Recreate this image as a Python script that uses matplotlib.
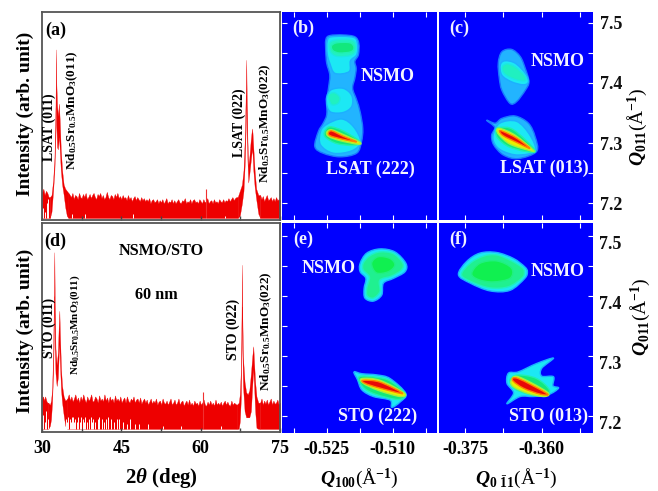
import numpy as np
import matplotlib
matplotlib.use("Agg")
import matplotlib.pyplot as plt
from matplotlib.patches import PathPatch
from matplotlib.path import Path

plt.rcParams['font.family'] = ['Liberation Serif', 'DejaVu Serif']
plt.rcParams['font.weight'] = 'bold'
plt.rcParams['mathtext.fontset'] = 'custom'
plt.rcParams['mathtext.rm'] = 'Liberation Serif'
plt.rcParams['mathtext.it'] = 'Liberation Serif:italic:bold'
plt.rcParams['mathtext.bf'] = 'Liberation Serif:bold'
plt.rcParams['mathtext.bfit'] = 'Liberation Serif:italic:bold'

# === XRD scan, panel (a) ===
a_left_x = [30, 30.25, 30.5, 30.75, 31, 31.25, 31.5]
a_left_top = [13, 15, 12, 14, 13, 11, 11]
a_mid_x = np.arange(35, 67.01, 0.25)
a_mid_top = [13, 12, 11, 13, 10, 12, 11.5, 10, 13, 11, 10.5, 12.5, 11, 13, 10, 11, 12.5, 10.5, 12, 13,
             11, 10, 12.5, 11.5, 13, 10.5, 12, 10, 11, 13.5, 11, 10, 12, 11.5, 10, 12.5, 11, 13, 10.5, 11.5,
             10, 12, 10.5, 11, 9.5, 12, 10, 11, 9, 10.5, 11.5, 9.5, 11, 10, 9, 11, 9.5, 10.5, 9, 10,
             9, 10.5, 8, 9.5, 10, 8.5, 9, 10, 8, 9.5, 8.5, 10, 8, 9, 10.5, 8, 9, 8.5, 10, 8,
             9.5, 8, 9, 10, 8.5, 8, 9.5, 9, 10.5, 8, 9, 8.5, 10, 8, 9.5, 10, 8.5, 9, 8, 10,
             9, 8, 10, 8.5, 9, 10.5, 8, 9, 9.5, 8, 10, 8.5, 9, 8, 10, 9, 8.5, 10, 8.5, 9.5,
             9, 10.5, 9, 10, 11, 9.5, 10.5, 11, 11]
a_right_x = np.arange(71.25, 75.01, 0.25)
a_right_top = [12, 10, 11.5, 9, 10.5, 12, 9.5, 10, 11, 9, 10.5, 9, 11, 9.5, 10, 9.5]
a_peak1_x = [31.5, 31.8, 32.1, 32.35, 32.55, 32.65, 32.72, 32.85, 33.0, 33.2, 33.35, 33.55, 33.8, 34.1, 34.4, 34.7, 35]
a_peak1_top = [11, 12, 19, 30, 55, 82, 65, 55, 50, 56, 48, 34, 24, 17, 15, 14, 13]
a_peak1_low = [1, 4, 14, 24, 40, 60, 45, 35, 34, 40, 34, 24, 17, 12, 6, 2, 1]
a_peak2_x = [67, 67.4, 67.8, 68.1, 68.35, 68.55, 68.62, 68.7, 68.85, 69.0, 69.2, 69.45, 69.7, 69.8, 69.95, 70.2, 70.5, 70.9, 71.25]
a_peak2_top = [11, 14, 17, 24, 40, 65, 77, 60, 38, 26, 30, 38, 44, 42, 35, 24, 15, 12, 12]
a_peak2_low = [1, 2, 8, 14, 28, 48, 60, 42, 28, 18, 22, 28, 34, 32, 24, 16, 10, 3, 1]
a_spike_x = [61.1]
a_spike_top = [15]
a_gap_x = [30.2, 30.6, 30.9, 31.2, 35.6, 38.2, 47.3, 61.1, 64.6]
a_gap_top = [6, 4, 8, 10, 3, 3, 3, 8, 2]

# === XRD scan, panel (d) ===
d_left_x = [30, 30.2, 30.4, 30.6, 30.8, 31, 31.2]
d_left_top = [16, 17, 15, 17, 15, 14, 14]
d_mid_x = np.arange(34.8, 66.81, 0.25)
d_mid_top = [16, 18, 15, 17, 14.5, 16, 18, 15, 16.5, 14, 17, 15, 18, 15.5, 14, 17, 15, 16, 18, 14.5,
             15, 17, 16, 14, 17.5, 15, 16, 14.5, 18, 15, 16.5, 14, 17, 15, 16, 14, 17.5, 15, 16, 14.5,
             17, 14, 15.5, 16.5, 14, 17, 15, 14, 16, 15, 17, 14, 15.5, 16, 14, 16.5, 13.5, 15, 16, 14,
             15.5, 13, 14.5, 16, 13.5, 15, 14, 16, 13, 14.5, 15, 13, 16, 14, 13.5, 15, 13, 14.5, 16, 13,
             14, 15.5, 13, 14, 16, 13, 14.5, 15, 12.5, 14, 15, 13, 15.5, 13, 14, 12.5, 15, 13.5, 14, 12.5,
             15, 13, 14, 15.5, 13, 12.5, 14.5, 13, 15, 13, 14, 12.5, 15.5, 13, 14, 13, 14.5, 12.5, 14, 15,
             13, 14.5, 13, 12.5, 15, 13, 14, 13.5, 13]
d_right_x = np.arange(71.25, 75.01, 0.25)
d_right_top = [14, 16, 13, 15, 13.5, 15.5, 13, 14.5, 16, 13, 15, 13.5, 14, 15.5, 13, 14]
d_peak1_x = [31.2, 31.5, 31.7, 31.9, 32.1, 32.25, 32.33, 32.42, 32.55, 32.77, 33.0, 33.15, 33.28, 33.4, 33.6, 33.8, 34.1, 34.4, 34.8]
d_peak1_top = [14, 13, 15, 20, 38, 65, 86, 60, 40, 32, 38, 50, 58, 46, 30, 22, 17, 15, 16]
d_peak1_low = [1.5, 3, 6, 14, 28, 48, 65, 40, 28, 22, 26, 36, 42, 32, 20, 14, 8, 3, 1.5]
d_peak2_x = [66.8, 67.2, 67.4, 67.6, 67.72, 67.8, 67.88, 68.0, 68.3, 68.6, 68.9, 69.2, 69.5, 69.75, 69.95, 70.1, 70.3, 70.55, 70.9, 71.25]
d_peak2_top = [13, 14, 18, 30, 55, 80, 55, 36, 24, 19, 18, 20, 28, 36, 41, 33, 24, 17, 14, 14]
d_peak2_low = [1.5, 1.5, 5, 16, 38, 60, 40, 22, 10, 7, 7, 7, 10, 22, 30, 22, 10, 2, 1.5, 1.5]
d_spike_x = [60.5]
d_spike_top = [19]
d_gap_x = [30.2, 30.5, 30.8, 31.1, 34.6, 34.8, 35, 35.2, 35.4, 35.7, 35.9, 36.1, 36.3, 36.6, 36.8, 37.1, 37.4, 37.7,
           38, 38.2, 38.6, 38.9, 39.2, 39.5, 39.7, 40.1, 40.5, 40.8, 41.3, 41.7, 42.1, 42.4, 43, 43.6, 44.1, 44.6,
           45.4, 46.1, 46.7, 47.5, 48.4, 50.1, 52.8, 56.2, 60.5, 63.8]
d_gap_top = [8, 5, 10, 6, 6, 5, 7, 6, 5, 7, 7, 5, 6, 5, 7, 5, 7, 6, 5, 7, 5, 6, 7, 5, 6, 5, 6, 7, 6, 5, 6, 7, 6, 5,
             6, 6, 5, 4, 6, 4, 4, 4, 3, 3, 7, 3]

# === reciprocal space maps, (level, Qx outline, Qy outline) ===
panel_b = [
    ('halo', [-.5252, -.5243, -.5212, -.5186, -.5177, -.5178, -.5186, -.5183, -.5186, -.5191, -.5182, -.5174, -.5168, -.5171, -.5182, -.5220, -.5258, -.5277, -.5269, -.5258, -.5250, -.5250, -.5246, -.5243, -.5250, -.5252],
     [7.472, 7.479, 7.480, 7.477, 7.466, 7.447, 7.436, 7.424, 7.408, 7.391, 7.372, 7.352, 7.324, 7.302, 7.283, 7.277, 7.283, 7.294, 7.319, 7.333, 7.347, 7.369, 7.391, 7.413, 7.433, 7.452]),
    ('cyan', [-.5249, -.5239, -.5189, -.5180, -.5182, -.5196, -.5199, -.5231, -.5243, -.5249],
     [7.469, 7.477, 7.476, 7.463, 7.447, 7.437, 7.419, 7.416, 7.433, 7.449]),
    ('aqua', [-.5244, -.5229, -.5193, -.5183, -.5191, -.5224, -.5241],
     [7.466, 7.472, 7.472, 7.461, 7.447, 7.444, 7.451]),
    ('green', [-.5239, -.5227, -.5197, -.5188, -.5195, -.5221, -.5236],
     [7.462, 7.467, 7.467, 7.459, 7.452, 7.450, 7.454]),
    ('cyan', [-.5250, -.5239, -.5212, -.5193, -.5193, -.5212, -.5239, -.5249],
     [7.377, 7.389, 7.391, 7.379, 7.361, 7.351, 7.351, 7.361]),
    ('aqua', [-.5246, -.5233, -.5220, -.5224, -.5239],
     [7.379, 7.384, 7.376, 7.366, 7.364]),
    ('cyan', [-.5264, -.5250, -.5216, -.5189, -.5173, -.5193, -.5235, -.5264],
     [7.319, 7.331, 7.340, 7.327, 7.302, 7.287, 7.283, 7.297]),
    ('green', [-.5255, -.5243, -.5212, -.5174, -.5189, -.5227, -.5252],
     [7.318, 7.327, 7.320, 7.302, 7.296, 7.299, 7.309]),
    ('yellow', [-.5250, -.5239, -.5212, -.5176, -.5178, -.5220, -.5246],
     [7.318, 7.322, 7.314, 7.302, 7.298, 7.304, 7.311]),
    ('red', [-.5246, -.5238, -.5212, -.5182, -.5212, -.5242],
     [7.317, 7.320, 7.311, 7.302, 7.306, 7.312]),
]
panel_c = [
    ('halo', [-.3685, -.3678, -.3659, -.3642, -.3632, -.3625, -.3632, -.3649, -.3662, -.3678, -.3683],
     [7.433, 7.452, 7.456, 7.444, 7.424, 7.402, 7.388, 7.369, 7.366, 7.388, 7.408]),
    ('cyan', [-.3681, -.3672, -.3652, -.3632, -.3626, -.3636, -.3659, -.3678],
     [7.430, 7.437, 7.433, 7.416, 7.402, 7.397, 7.402, 7.413]),
    ('aqua', [-.3677, -.3668, -.3652, -.3634, -.3632, -.3649, -.3668, -.3676],
     [7.427, 7.432, 7.427, 7.413, 7.404, 7.405, 7.412, 7.419]),
    ('halo', [-.3708, -.3691, -.3678, -.3652, -.3626, -.3613, -.3610, -.3646, -.3675, -.3694, -.3698, -.3692],
     [7.338, 7.333, 7.341, 7.345, 7.333, 7.311, 7.286, 7.274, 7.280, 7.297, 7.313, 7.326]),
    ('cyan', [-.3695, -.3682, -.3649, -.3623, -.3613, -.3646, -.3675, -.3691],
     [7.313, 7.333, 7.336, 7.313, 7.287, 7.280, 7.286, 7.297]),
    ('green', [-.3690, -.3682, -.3655, -.3613, -.3632, -.3665, -.3686],
     [7.321, 7.326, 7.322, 7.288, 7.286, 7.294, 7.308]),
    ('yellow', [-.3688, -.3680, -.3652, -.3616, -.3626, -.3662, -.3683],
     [7.322, 7.324, 7.313, 7.288, 7.288, 7.298, 7.313]),
    ('red', [-.3683, -.3675, -.3649, -.3623, -.3649, -.3675],
     [7.320, 7.319, 7.308, 7.291, 7.301, 7.312]),
]
panel_e = [
    ('cyan', [-.5174, -.5159, -.5129, -.5095, -.5070, -.5072, -.5098, -.5121, -.5125, -.5144, -.5163, -.5165, -.5161, -.5174],
     [7.454, 7.471, 7.478, 7.473, 7.454, 7.440, 7.429, 7.421, 7.401, 7.391, 7.396, 7.412, 7.429, 7.440]),
    ('mint', [-.5167, -.5153, -.5129, -.5098, -.5077, -.5080, -.5102, -.5129, -.5129, -.5144, -.5158, -.5159, -.5153, -.5167],
     [7.454, 7.466, 7.473, 7.470, 7.454, 7.443, 7.433, 7.426, 7.407, 7.396, 7.400, 7.412, 7.431, 7.443]),
    ('lime', [-.5148, -.5133, -.5106, -.5095, -.5110, -.5137],
     [7.454, 7.465, 7.462, 7.451, 7.440, 7.438]),
    ('cyan', [-.5188, -.5170, -.5136, -.5106, -.5070, -.5083, -.5102, -.5106, -.5144, -.5170, -.5180],
     [7.273, 7.270, 7.268, 7.262, 7.237, 7.223, 7.214, 7.226, 7.232, 7.243, 7.260]),
    ('green', [-.5176, -.5136, -.5106, -.5072, -.5087, -.5140, -.5168],
     [7.265, 7.264, 7.258, 7.237, 7.227, 7.236, 7.248]),
    ('yellow', [-.5170, -.5129, -.5074, -.5083, -.5132, -.5167],
     [7.262, 7.259, 7.238, 7.232, 7.242, 7.254]),
    ('red', [-.5167, -.5129, -.5077, -.5129, -.5163],
     [7.259, 7.256, 7.237, 7.246, 7.254]),
]
panel_f = [
    ('cyan', [-.3763, -.3747, -.3721, -.3688, -.3655, -.3633, -.3628, -.3633, -.3662, -.3701, -.3740],
     [7.435, 7.457, 7.471, 7.472, 7.462, 7.448, 7.440, 7.429, 7.409, 7.408, 7.421]),
    ('mint', [-.3757, -.3740, -.3714, -.3688, -.3659, -.3638, -.3634, -.3638, -.3665, -.3701, -.3737],
     [7.435, 7.454, 7.466, 7.468, 7.458, 7.447, 7.440, 7.430, 7.415, 7.413, 7.423]),
    ('lime', [-.3737, -.3721, -.3688, -.3659, -.3662, -.3695, -.3724],
     [7.437, 7.454, 7.458, 7.446, 7.429, 7.423, 7.427]),
    ('cyan', [-.3665, -.3646, -.3610, -.3577, -.3600, -.3600, -.3577, -.3578, -.3567, -.3587, -.3616, -.3642, -.3668, -.3655, -.3668],
     [7.271, 7.273, 7.287, 7.296, 7.279, 7.266, 7.265, 7.250, 7.246, 7.235, 7.232, 7.232, 7.220, 7.238, 7.254]),
    ('green', [-.3662, -.3646, -.3610, -.3585, -.3597, -.3630, -.3655],
     [7.260, 7.268, 7.262, 7.243, 7.233, 7.237, 7.246]),
    ('yellow', [-.3660, -.3646, -.3590, -.3594, -.3626, -.3655],
     [7.258, 7.265, 7.240, 7.232, 7.237, 7.248]),
    ('red', [-.3657, -.3646, -.3590, -.3603, -.3636],
     [7.259, 7.262, 7.237, 7.236, 7.246]),
]

level_fill = {'halo': '#22b4ff', 'cyan': '#1ce8f4', 'aqua': '#20f0c0', 'mint': '#20f090',
              'lime': '#10f050', 'green': '#12e87c', 'yellow': '#e8f000', 'red': '#e80808'}
level_edge = {'halo': '#1a78ff', 'cyan': '#1cb0ff', 'aqua': '#1ce8e0', 'mint': '#20f0c0',
              'lime': '#20f080', 'green': '#20f0b0', 'yellow': '#a0f040', 'red': '#ff8000'}

RED = '#ee0000'
W, H = 658.0, 491.0


def place(left, top, right, bottom):
    return plt.gcf().add_axes([left / W, 1 - bottom / H, (right - left) / W, (bottom - top) / H])


def draw_scan(ax, parts, peaks, spike, gaps, base):
    for x, top in parts:
        ax.fill_between(x, base, top, color=RED, lw=0.3)
    for x, low, top in peaks:
        ax.fill_between(x, low, top, color=RED, lw=0.2)
    ax.vlines(gaps[0], base, gaps[1], color='white', lw=0.7)
    ax.vlines(spike[0], base, spike[1], color='#f03030', lw=0.8)
    ax.set_xlim(30, 75)
    ax.set_ylim(0, 100)
    ax.set_yticks([])
    ax.set_xticks([30, 45, 60, 75])
    ax.set_xticks([37.5, 52.5, 67.5], minor=True)
    ax.tick_params(which='both', axis='x', direction='in', length=3, width=1, color='#444444')
    for s in ax.spines.values():
        s.set_color('#555555')
        s.set_linewidth(1.3)


def outline(xs, ys):
    # closed spline through the read outline points
    pts = np.column_stack([xs, ys])
    n = len(pts)
    verts = [pts[0]]
    codes = [Path.MOVETO]
    for i in range(n):
        p0, p1, p2, p3 = pts[i - 1], pts[i], pts[(i + 1) % n], pts[(i + 2) % n]
        verts += [p1 + (p2 - p0) / 6, p2 - (p3 - p1) / 6, p2]
        codes += [Path.CURVE4, Path.CURVE4, Path.CURVE4]
    return Path(verts, codes)


def draw_map(ax, blobs, xlim, ylim, xmajor, xminor):
    ax.set_facecolor('#0000ff')
    for level, xs, ys in blobs:
        ax.add_patch(PathPatch(outline(xs, ys), facecolor=level_fill[level],
                               edgecolor=level_edge[level], lw=1.0))
    ax.set_xlim(*xlim)
    ax.set_ylim(*ylim)
    ax.set_xticks(xmajor)
    ax.set_xticks(xminor, minor=True)
    ax.set_yticks([7.2, 7.25, 7.3, 7.35, 7.4, 7.45, 7.5])
    ax.tick_params(which='both', direction='in', length=3.5, width=0.8, color='white',
                   top=True, bottom=True, labelleft=False, labelbottom=False)
    for s in ax.spines.values():
        s.set_visible(False)


fig = plt.figure(figsize=(6.58, 4.91), dpi=100, facecolor='white')

# === XRD panels ===
nd_011 = r'Nd$_{\mathbf{0.5}}$Sr$_{\mathbf{0.5}}$MnO$_{\mathbf{3}}$(011)'
nd_022 = r'Nd$_{\mathbf{0.5}}$Sr$_{\mathbf{0.5}}$MnO$_{\mathbf{3}}$(022)'

ax_a = place(42, 12, 280, 220)
draw_scan(ax_a, [(a_left_x, a_left_top), (a_mid_x, a_mid_top), (a_right_x, a_right_top)],
          [(a_peak1_x, a_peak1_low, a_peak1_top), (a_peak2_x, a_peak2_low, a_peak2_top)],
          (a_spike_x, a_spike_top), (a_gap_x, a_gap_top), 1)
ax_a.tick_params(labelbottom=False)
ax_a.set_ylabel('Intensity (arb. unit)', fontsize=14, fontweight='bold', va='center')
ax_a.yaxis.set_label_coords(-0.072, 0.51)
ax_a.text(32.6, 91, '(a)', fontsize=13, ha='center', va='center')
ax_a.text(31.3, 44.7, 'LSAT (011)', fontsize=10, rotation=90, ha='center', va='center')
ax_a.text(35.8, 52.9, nd_011, fontsize=9.5, rotation=90, ha='center', va='center')
ax_a.text(67.3, 46.6, 'LSAT (022)', fontsize=10, rotation=90, ha='center', va='center')
ax_a.text(72.3, 46.6, nd_022, fontsize=9.5, rotation=90, ha='center', va='center')

ax_d = place(42, 223, 280, 432)
draw_scan(ax_d, [(d_left_x, d_left_top), (d_mid_x, d_mid_top), (d_right_x, d_right_top)],
          [(d_peak1_x, d_peak1_low, d_peak1_top), (d_peak2_x, d_peak2_low, d_peak2_top)],
          (d_spike_x, d_spike_top), (d_gap_x, d_gap_top), 1.5)
ax_d.tick_params(axis='x', labelsize=13, pad=6)
ax_d.set_ylabel('Intensity (arb. unit)', fontsize=14, fontweight='bold', va='center')
ax_d.yaxis.set_label_coords(-0.07, 0.483)
ax_d.set_xlabel(r'2$\mathbfit{\theta}$ (deg)', fontsize=15, fontweight='bold', va='center')
ax_d.xaxis.set_label_coords(0.5, -0.22)
ax_d.text(32.5, 91.4, '(d)', fontsize=13, ha='center', va='center')
ax_d.text(52.5, 86.7, 'NSMO/STO', fontsize=11.7, ha='center', va='center')
ax_d.text(51.6, 65.5, '60 nm', fontsize=11.7, ha='center', va='center')
ax_d.text(31.3, 50, 'STO (011)', fontsize=10, rotation=90, ha='center', va='center')
ax_d.text(36.2, 51.5, nd_011, fontsize=8, rotation=90, ha='center', va='center')
ax_d.text(66.1, 49, 'STO (022)', fontsize=10, rotation=90, ha='center', va='center')
ax_d.text(72.5, 48, nd_022, fontsize=9.5, rotation=90, ha='center', va='center')

# === map panels ===
bx_major = [-0.525, -0.510]
bx_minor = [-0.5325, -0.5175, -0.5025]
cx_major = [-0.375, -0.360]
cx_minor = [-0.3675, -0.3525]
up_ylim = (7.1717, 7.5183)
low_ylim = (7.1712, 7.5212)
bx_lim = (-0.53516, -0.49993)
cx_lim = (-0.3801, -0.34996)

ax_b = place(282, 12, 437, 220)
draw_map(ax_b, panel_b, bx_lim, up_ylim, bx_major, bx_minor)
ax_b.tick_params(left=True, right=False)
ax_c = place(439, 12, 593, 220)
draw_map(ax_c, panel_c, cx_lim, up_ylim, cx_major, cx_minor)
ax_c.tick_params(which='both', left=False, right=True, labelright=True)
ax_e = place(282, 223, 437, 433)
draw_map(ax_e, panel_e, bx_lim, low_ylim, bx_major, bx_minor)
ax_e.tick_params(left=True, right=False)
ax_f = place(439, 223, 593, 433)
draw_map(ax_f, panel_f, cx_lim, low_ylim, cx_major, cx_minor)
ax_f.tick_params(which='both', left=False, right=True)

ax_c.set_yticks([7.2, 7.3, 7.4, 7.5])
ax_c.set_yticks([7.25, 7.35, 7.45], minor=True)
ax_c.set_yticklabels(['7.2', '7.3', '7.4', '7.5'])
ax_c.tick_params(axis='y', labelsize=13, pad=5, labelcolor='#111111')

# labels of the lower row sit a little under their ticks
for v in [7.2, 7.3, 7.4, 7.5]:
    ax_f.annotate(f'{v:.1f}', xy=(1, v), xycoords=ax_f.get_yaxis_transform(), xytext=(4.5, -6.5),
                  textcoords='offset points', fontsize=13, ha='left', va='center',
                  color='#111111', annotation_clip=False)

ax_e.tick_params(axis='x', labelbottom=True, labelsize=13, pad=6)
ax_f.tick_params(axis='x', labelbottom=True, labelsize=13, pad=6)
ax_e.set_xticklabels(['-0.525', '-0.510'])
ax_f.set_xticklabels(['-0.375', '-0.360'])
ax_e.set_xlabel(r'$\mathbfit{Q}_{\mathbf{100}}$(Å$^{\mathrm{-1}}$)', fontsize=14, fontweight='normal', va='center')
ax_e.xaxis.set_label_coords(0.5, -0.215)
ax_f.set_xlabel(r'$\mathbfit{Q}_{\mathbf{0\ \bar{1}1}}$(Å$^{\mathrm{-1}}$)', fontsize=14, fontweight='normal', va='center')
ax_f.xaxis.set_label_coords(0.5, -0.215)

qlabel = r'$\mathbfit{Q}_{\mathbf{011}}$(Å$^{\mathrm{-1}}$)'
ax_c.text(1.286, 0.447, qlabel, transform=ax_c.transAxes, fontsize=14, fontweight='normal',
          rotation=90, ha='center', va='center')
ax_f.text(1.305, 0.552, qlabel, transform=ax_f.transAxes, fontsize=14, fontweight='normal',
          rotation=90, ha='center', va='center')

for ax, tag, x, y in [(ax_b, '(b)', 0.135, 0.923), (ax_c, '(c)', 0.13, 0.923),
                      (ax_e, '(e)', 0.135, 0.924), (ax_f, '(f)', 0.123, 0.924)]:
    ax.text(x, y, tag, transform=ax.transAxes, color='#f0f0ff', fontsize=13, ha='center', va='center')

for ax, tag, x, y in [(ax_b, 'NSMO', 0.684, 0.692), (ax_b, 'LSAT (222)', 0.568, 0.245),
                      (ax_c, 'NSMO', 0.773, 0.76), (ax_c, 'LSAT (013)', 0.682, 0.25),
                      (ax_e, 'NSMO', 0.303, 0.781), (ax_e, 'STO (222)', 0.619, 0.081),
                      (ax_f, 'NSMO', 0.773, 0.767), (ax_f, 'STO (013)', 0.708, 0.081)]:
    ax.text(x, y, tag, transform=ax.transAxes, color='#f4f4ff', fontsize=13, ha='center', va='center')

fig.savefig('out.png', dpi=100)
